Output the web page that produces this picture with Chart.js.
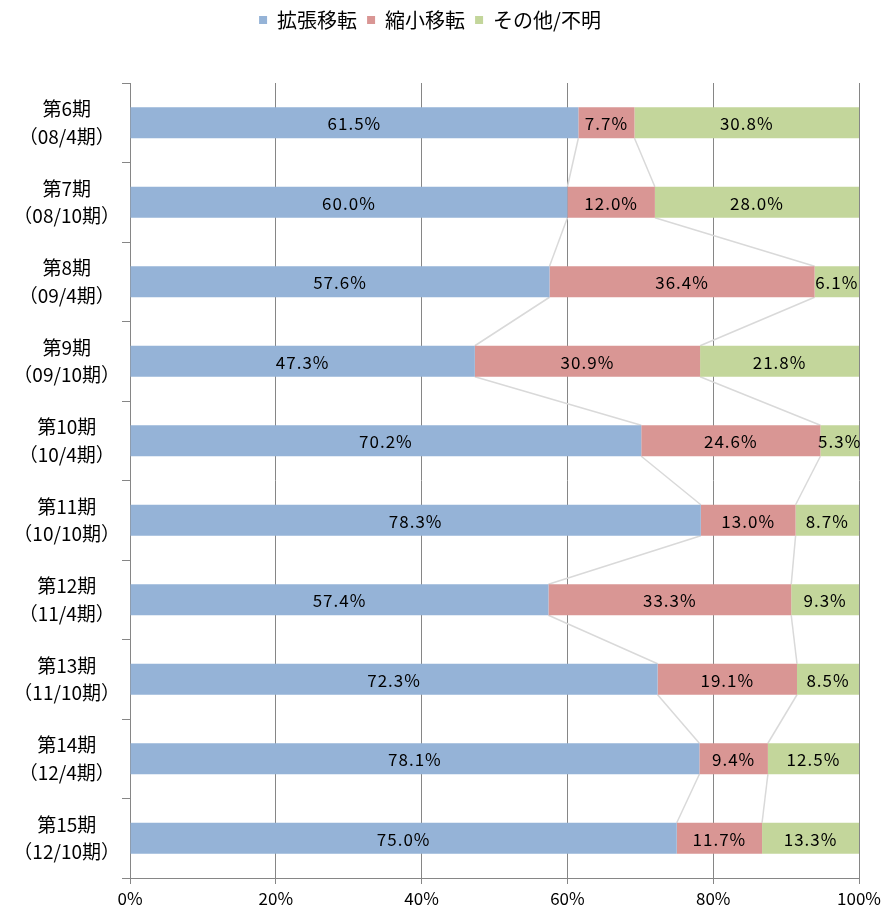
<!DOCTYPE html>
<html>
<head>
<meta charset="utf-8">
<script src="https://cdn.jsdelivr.net/npm/chart.js@4"></script>
<style>
  body { margin: 0; background: #fff; }
</style>
</head>
<body>
<canvas id="myChart" width="885" height="914"></canvas>
<script>
// 期ごとの移転理由の割合
const periods = [
    ["第6期", "（08/4期）"],
    ["第7期", "（08/10期）"],
    ["第8期", "（09/4期）"],
    ["第9期", "（09/10期）"],
    ["第10期", "（10/4期）"],
    ["第11期", "（10/10期）"],
    ["第12期", "（11/4期）"],
    ["第13期", "（11/10期）"],
    ["第14期", "（12/4期）"],
    ["第15期", "（12/10期）"]
];
const seriesNames = ["拡張移転", "縮小移転", "その他/不明"];
const kakucho = [61.5, 60.0, 57.6, 47.3, 70.2, 78.3, 57.4, 72.3, 78.1, 75.0];
const shukusho = [7.7, 12.0, 36.4, 30.9, 24.6, 13.0, 33.3, 19.1, 9.4, 11.7];
const sonota = [30.8, 28.0, 6.1, 21.8, 5.3, 8.7, 9.3, 8.5, 12.5, 13.3];
const xTicks = [0, 20, 40, 60, 80, 100];

const colors = ["#95b3d7", "#d99694", "#c3d69b"];
const raw = [kakucho, shukusho, sonota];

// 100%積み上げなので合計で割る
const totals = kakucho.map((v, i) => v + shukusho[i] + sonota[i]);
const share = arr => arr.map((v, i) => v / totals[i] * 100);

Chart.defaults.font.family = '"Noto Sans CJK JP", "Noto Sans", sans-serif';
Chart.defaults.color = '#000';

// 区分線 (series lines)
const seriesLines = {
    id: 'seriesLines',
    beforeDatasetsDraw(chart) {
        const c = chart.ctx;
        c.save();
        c.strokeStyle = '#d9d9d9';
        c.lineWidth = 1.5;
        for (let d = 0; d < 2; d++) {
            const bars = chart.getDatasetMeta(d).data;
            for (let i = 0; i < bars.length - 1; i++) {
                const a = bars[i], b = bars[i + 1];
                c.beginPath();
                c.moveTo(a.x, a.y + a.height / 2);
                c.lineTo(b.x, b.y - b.height / 2);
                c.stroke();
            }
        }
        c.restore();
    }
};

// 値ラベル
const valueLabels = {
    id: 'valueLabels',
    afterDatasetsDraw(chart) {
        const c = chart.ctx;
        c.save();
        c.font = '17px "Noto Sans CJK JP", "Noto Sans", sans-serif';
        c.letterSpacing = '1px';
        c.fillStyle = '#000';
        c.textAlign = 'center';
        c.textBaseline = 'middle';
        chart.data.datasets.forEach((ds, d) => {
            chart.getDatasetMeta(d).data.forEach((bar, i) => {
                const p = bar.getCenterPoint();
                c.fillText(raw[d][i].toFixed(1) + '%', p.x, p.y + 1);
            });
        });
        c.restore();
    }
};

// 凡例の下に余白
const legendMargin = {
    id: 'legendMargin',
    beforeInit(chart) {
        const fit = chart.legend.fit;
        chart.legend.fit = function () {
            fit.bind(chart.legend)();
            this.height += 43;
        };
    }
};

let ctx = document.getElementById('myChart');

let myChart = new Chart(ctx, {
    type: 'bar',
    data: {
        labels: periods,
        datasets: seriesNames.map((name, d) => ({
            label: name,
            data: share(raw[d]),
            backgroundColor: colors[d],
            borderWidth: 0,
            categoryPercentage: 1,
            barPercentage: 0.39
        }))
    },
    options: {
        indexAxis: 'y',
        responsive: false,
        animation: false,
        layout: { padding: { left: 0, right: 25, top: 0, bottom: 0 } },
        plugins: {
            legend: {
                position: 'top',
                labels: {
                    boxWidth: 8,
                    boxHeight: 8,
                    padding: 10,
                    font: { size: 20 },
                    color: '#000'
                }
            },
            tooltip: { enabled: false }
        },
        scales: {
            x: {
                stacked: true,
                min: 0,
                max: 100,
                afterBuildTicks(scale) {
                    scale.ticks = xTicks.map(v => ({ value: v }));
                },
                afterFit(scale) { scale.height = 36; },
                ticks: {
                    callback: v => v + '%',
                    font: { size: 17 },
                    color: '#000',
                    padding: 4
                },
                grid: { color: '#868686', tickLength: 6 },
                border: { color: '#868686' }
            },
            y: {
                stacked: true,
                afterFit(scale) { scale.width = 130; },
                ticks: {
                    crossAlign: 'center',
                    font: { size: 19, lineHeight: 1.45 },
                    color: '#000',
                    padding: 2
                },
                grid: {
                    offset: true,
                    drawOnChartArea: false,
                    color: '#868686',
                    tickLength: 8
                },
                border: { color: '#868686' }
            }
        }
    },
    plugins: [seriesLines, valueLabels, legendMargin]
});
</script>
</body>
</html>
